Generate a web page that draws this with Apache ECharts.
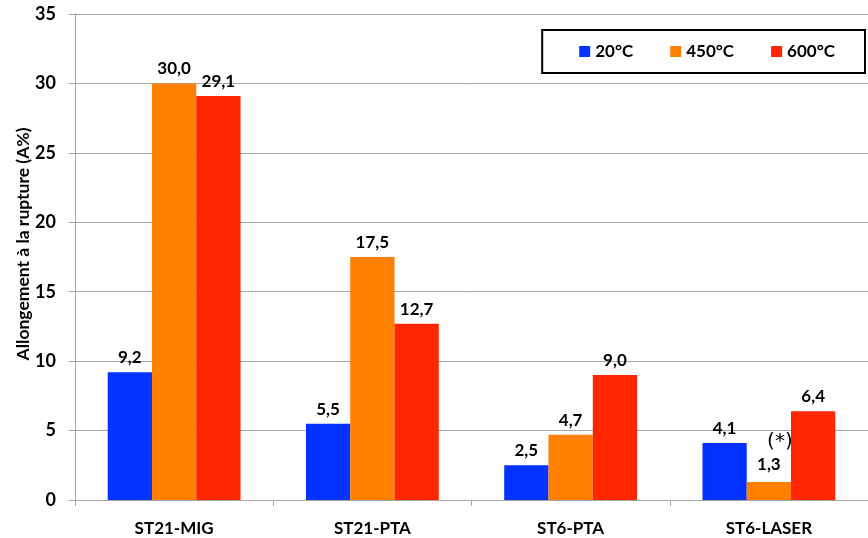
<!DOCTYPE html>
<html><head><meta charset="utf-8">
<script src="https://cdn.jsdelivr.net/npm/echarts@6/dist/echarts.min.js"></script>
<style>html,body{margin:0;padding:0;background:#fff}#c{width:868px;height:538px}</style>
</head><body><div id="c"></div>
<script>
const categories = ['ST21-MIG', 'ST21-PTA', 'ST6-PTA', 'ST6-LASER'];
const seriesNames = ['20°C', '450°C', '600°C'];
const v20 = [9.2, 5.5, 2.5, 4.1];
const v450 = [30.0, 17.5, 4.7, 1.3];
const v600 = [29.1, 12.7, 9.0, 6.4];
const colors = ['#0433FF', '#FF7F00', '#FF2600'];
const yName = 'Allongement à la rupture (A%)';
const FONT = 'Lato';

const fmt = v => v.toFixed(1).replace('.', ',');
function mk(name, data, color, idx) {
  return {
    name, type: 'bar', data: data.map((v, i) => {
      const d = { value: v };
      if (idx === 1 && i === 3) {
        d.label = {
          formatter: p => '{s|(*)}\n{v|' + fmt(p.value) + '}',
          rich: {
            s: { fontFamily: 'DejaVu Sans', fontWeight: 'normal', fontSize: 20, color: '#000', padding: [0, 0, 0, 22], lineHeight: 24 },
            v: { fontFamily: FONT, fontWeight: 'bold', fontSize: 17, color: '#000', lineHeight: 22 }
          }
        };
      }
      return d;
    }),
    itemStyle: { color },
    barGap: '0%', barCategoryGap: '33%',
    label: {
      show: true, position: 'top', distance: 6,
      formatter: p => fmt(p.value),
      fontFamily: FONT, fontWeight: 'bold', fontSize: 17, color: '#000'
    }
  };
}
const chart = echarts.init(document.getElementById('c'));
chart.setOption({
  animation: false,
  textStyle: { fontFamily: FONT },
  grid: { left: 75, top: 14, width: 800, height: 486, containLabel: false },
  graphic: [{
    type: 'text', x: 23, y: 244, rotation: Math.PI / 2,
    style: { text: yName, fontFamily: FONT, fontWeight: 'bold', fontSize: 17.5, fill: '#000', align: 'center', verticalAlign: 'middle' }
  }],
  legend: {
    data: seriesNames, right: 3, top: 30,
    width: 322, height: 41,
    padding: [13, 30, 13, 37],
    borderColor: '#000', borderWidth: 2,
    itemWidth: 11, itemHeight: 11, itemGap: 37,
    textStyle: { fontFamily: FONT, fontWeight: 'bold', fontSize: 17, color: '#000' },
    icon: 'rect'
  },
  xAxis: {
    type: 'category', data: categories,
    axisLine: { lineStyle: { color: '#A6A6A6', width: 1 } },
    axisTick: { show: true, length: 6, lineStyle: { color: '#A6A6A6' } },
    axisLabel: { fontFamily: FONT, fontWeight: 'bold', fontSize: 17, color: '#000', margin: 20 }
  },
  yAxis: {
    type: 'value', min: 0, max: 35, interval: 5,
    axisLine: { show: true, lineStyle: { color: '#A6A6A6' } },
    axisTick: { show: true, length: 6, lineStyle: { color: '#A6A6A6' } },
    axisLabel: { fontFamily: FONT, fontWeight: 'bold', fontSize: 18, color: '#000', margin: 19 },
    splitLine: { lineStyle: { color: '#A6A6A6', width: 1 } }
  },
  series: [mk(seriesNames[0], v20, colors[0], 0), mk(seriesNames[1], v450, colors[1], 1), mk(seriesNames[2], v600, colors[2], 2)]
});
</script></body></html>
